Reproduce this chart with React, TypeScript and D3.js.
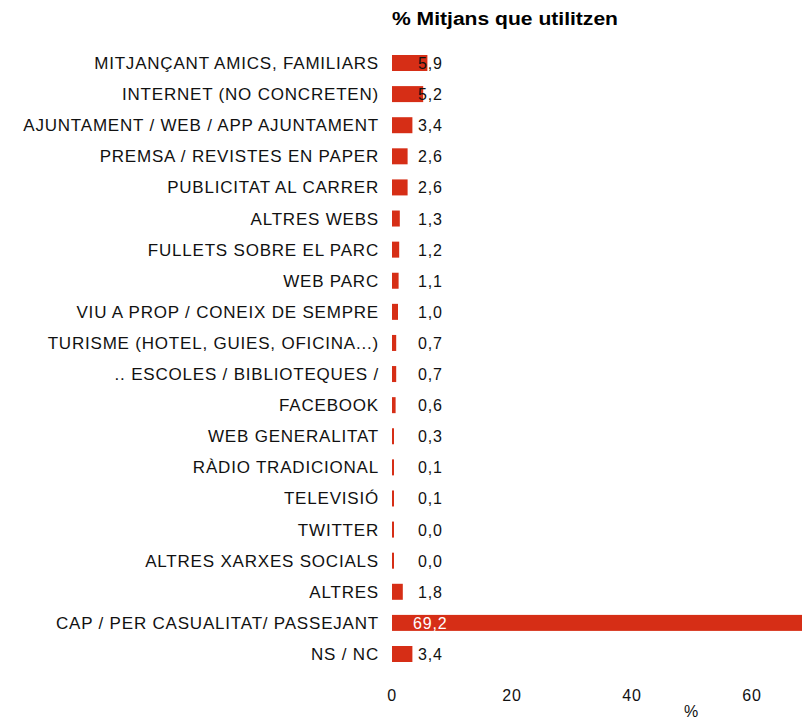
import React from "react";
import * as d3 from "d3";

const categories = [
  "MITJANÇANT AMICS, FAMILIARS",
  "INTERNET (NO CONCRETEN)",
  "AJUNTAMENT / WEB / APP AJUNTAMENT",
  "PREMSA / REVISTES EN PAPER",
  "PUBLICITAT AL CARRER",
  "ALTRES WEBS",
  "FULLETS SOBRE EL PARC",
  "WEB PARC",
  "VIU A PROP / CONEIX DE SEMPRE",
  "TURISME (HOTEL, GUIES, OFICINA...)",
  ".. ESCOLES / BIBLIOTEQUES /",
  "FACEBOOK",
  "WEB GENERALITAT",
  "RÀDIO TRADICIONAL",
  "TELEVISIÓ",
  "TWITTER",
  "ALTRES XARXES SOCIALS",
  "ALTRES",
  "CAP / PER CASUALITAT/  PASSEJANT",
  "NS / NC",
];
const values = [5.9, 5.2, 3.4, 2.6, 2.6, 1.3, 1.2, 1.1, 1.0, 0.7, 0.7, 0.6, 0.3, 0.1, 0.1, 0.0, 0.0, 1.8, 69.2, 3.4];
const xTicks = [0, 20, 40, 60];
const title = "% Mitjans que utilitzen";
const axisTitle = "%";

const W = 802;
const H = 721;
const RED = "#D62E16";
const FONT = "'Liberation Sans', Arial, sans-serif";

export default function App() {
  const x = d3.scaleLinear().domain([0, 60]).range([392, 752]);
  const y = d3.scalePoint<string>().domain(categories).range([63, 654]);
  const barH = 16;
  const fmt = (v: number) => v.toFixed(1).replace(".", ",");
  return (
    <svg width={W} height={H} style={{ position: "absolute", left: 0, top: 0, background: "#fff" }}>
      <text x={392} y={25} fontFamily={FONT} fontWeight="bold" fontSize={18} textLength={226} lengthAdjust="spacingAndGlyphs" fill="#000">
        {title}
      </text>
      {categories.map((c, i) => {
        const cy = y(c)!;
        const w = Math.max(x(values[i]) - x(0), 2);
        const big = values[i] > 30;
        return (
          <g key={c}>
            <text x={379} y={cy + 6} textAnchor="end" fontFamily={FONT} fontSize={17} letterSpacing={0.8} fill="#111">
              {c}
            </text>
            <rect x={x(0)} y={cy - barH / 2} width={w} height={barH} fill={RED} />
            <text x={big ? 413 : 418} y={cy + 6} fontFamily={FONT} fontSize={16} letterSpacing={0.8} fill={big ? "#fff" : "#111"}>
              {fmt(values[i])}
            </text>
          </g>
        );
      })}
      {xTicks.map((t) => (
        <text key={t} x={x(t)} y={701} textAnchor="middle" fontFamily={FONT} fontSize={16} letterSpacing={0.8} fill="#111">
          {t}
        </text>
      ))}
      <text x={691} y={717} textAnchor="middle" fontFamily={FONT} fontSize={16} fill="#111">
        {axisTitle}
      </text>
    </svg>
  );
}
